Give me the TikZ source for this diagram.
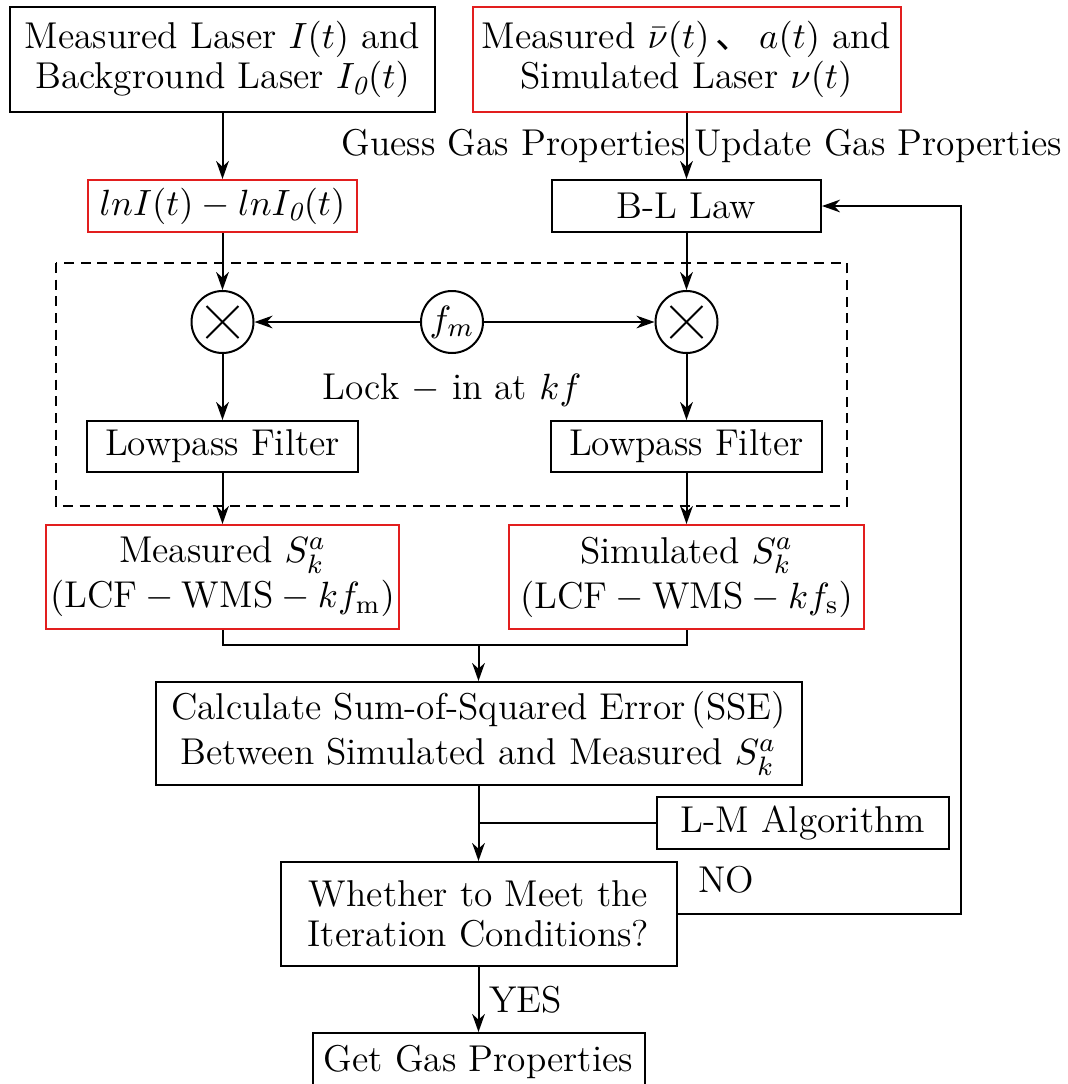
\documentclass[tikz,border=0pt]{standalone}
\usepackage{fontspec}
\newfontfamily\cjk{Noto Sans CJK SC}
\usetikzlibrary{arrows.meta,calc}
\definecolor{redbox}{RGB}{226,30,30}
\begin{document}
\begin{tikzpicture}[x=0.3pt,y=-0.3pt,
  every node/.style={font=\fontsize{11.2}{12}\selectfont},
  box/.style={draw, line width=0.6pt, rectangle, align=center, inner sep=0pt},
  redb/.style={box, draw=redbox},
  mul/.style={draw, circle, line width=0.6pt, minimum size=18.6pt, inner sep=0pt},
  conn/.style={line width=0.6pt},
  arr/.style={conn, -{Stealth[length=5.4pt,width=3.8pt,inset=1.7pt]}},
  lbl/.style={inner sep=1pt}]
\useasboundingbox (0,0) rectangle (1067,1084);

% nodes
\node[box, minimum width=127.5pt, minimum height=31.5pt] (in1) at (222.5,59.5)
  {Measured Laser $I(t)$ and\\Background Laser $I_{\mathit{0}}(t)$};
\node[redb, minimum width=128.4pt, minimum height=31.5pt] (in2) at (686.5,59.5)
  {Measured $\bar{\nu}(t)$\,{\cjk 、}\,$a(t)$ and\\Simulated Laser $\nu(t)$};
\node[redb, minimum width=80.7pt, minimum height=15.6pt] (ln) at (222.5,206)
  {$lnI(t)-lnI_{\mathit{0}}(t)$};
\node[box, minimum width=80.7pt, minimum height=15.6pt] (bl) at (686.5,206) {B-L Law};

\draw[conn, dash pattern=on 3pt off 2pt] (56,263) rectangle (847,506);

\node[mul] (mulL) at (222.5,322) {};
\node[mul] (mulR) at (686.5,322) {};
\node[mul] (fm) at (452,322) {$f_m$};
\foreach \c in {mulL,mulR}{
  \draw[conn] ([shift={(-16,-16)}]\c.center) -- ([shift={(16,16)}]\c.center);
  \draw[conn] ([shift={(-16,16)}]\c.center) -- ([shift={(16,-16)}]\c.center);
}
\node[lbl] (lock) at (452,390) {Lock $-$ in at $kf$};

\node[box, minimum width=81.3pt, minimum height=15.3pt] (lpL) at (222.5,446.5) {Lowpass Filter};
\node[box, minimum width=81.3pt, minimum height=15.3pt] (lpR) at (686.5,446.5) {Lowpass Filter};

\node[redb, minimum width=105.9pt, minimum height=31.2pt] (mS) at (222.5,577)
  {Measured $S_k^a$\\[1.5pt]$(\mathrm{LCF}-\mathrm{WMS}-kf_{\mathrm{m}})$};
\node[redb, minimum width=106.5pt, minimum height=31.2pt] (sS) at (686.5,577)
  {Simulated $S_k^a$\\[1.5pt]$(\mathrm{LCF}-\mathrm{WMS}-kf_{\mathrm{s}})$};

\coordinate (mg) at (478.5,645);

\node[box, minimum width=193.8pt, minimum height=30.9pt] (calc) at (478.5,733.5)
  {Calculate Sum-of-Squared Error\,(SSE)\\[1.5pt]Between Simulated and Measured $S_k^a$};
\node[box, minimum width=87.6pt, minimum height=15.6pt] (lm) at (803,823) {L-M Algorithm};
\node[box, minimum width=118.8pt, minimum height=31.2pt] (wh) at (478.5,914)
  {Whether to Meet the\\Iteration Conditions?};
\node[box, minimum width=99.6pt, minimum height=17.4pt] (get) at (478.5,1062) {Get Gas Properties};
\coordinate (fb) at (961,206);

% connectors
\draw[arr] (in1.south) -- (ln.north);
\draw[arr] (in2.south) -- node[pos=0.5, left, lbl, xshift=1pt] {Guess Gas Properties}
  node[pos=0.5, right, lbl, xshift=1pt] {Update Gas Properties} (bl.north);
\draw[arr] (ln.south) -- (mulL.north);
\draw[arr] (bl.south) -- (mulR.north);
\draw[arr] (fm.west) -- (mulL.east);
\draw[arr] (fm.east) -- (mulR.west);
\draw[arr] (mulL.south) -- (lpL.north);
\draw[arr] (mulR.south) -- (lpR.north);
\draw[arr] (lpL.south) -- (mS.north);
\draw[arr] (lpR.south) -- (sS.north);
\draw[conn] (mS.south) |- (mg) -| (sS.south);
\draw[arr] (mg) -- (calc.north);
\draw[arr] (calc.south) -- (wh.north);
\draw[conn] (lm.west) -- (calc.south |- lm.west);
\draw[arr] (wh.east) -| (fb) -- (bl.east);
\node[lbl, anchor=west] (no) at (694,880) {NO};
\draw[arr] (wh.south) -- node[right, lbl, xshift=2pt] {YES} (get.north);
\end{tikzpicture}
\end{document}
